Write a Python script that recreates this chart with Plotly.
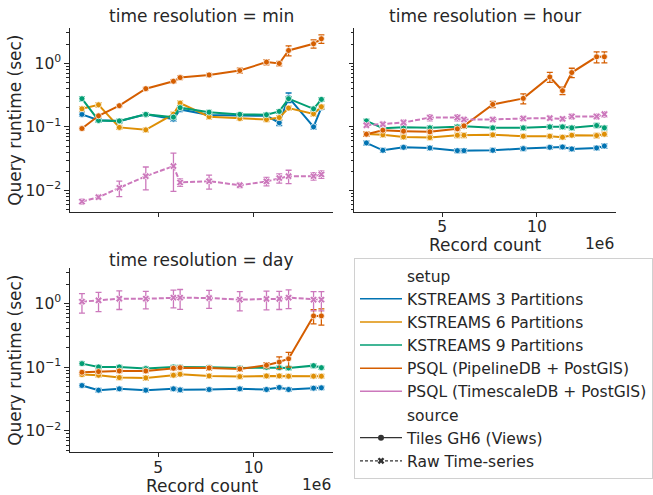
import plotly.graph_objects as go

W, H = 653, 495

record_count = [1.0e6, 1.87e6, 2.96e6, 4.35e6, 5.8e6, 6.15e6, 7.67e6, 9.28e6,
                10.68e6, 11.35e6, 11.84e6, 13.15e6, 13.56e6]

setups = ["KSTREAMS 3 Partitions", "KSTREAMS 6 Partitions", "KSTREAMS 9 Partitions",
          "PSQL (PipelineDB + PostGIS)", "PSQL (TimescaleDB + PostGIS)"]
setup_colors = ["#0173b2", "#de8f05", "#029e73", "#d55e00", "#cc78bc"]
setup_source = ["Tiles GH6 (Views)", "Tiles GH6 (Views)", "Tiles GH6 (Views)",
                "Tiles GH6 (Views)", "Raw Time-series"]
sources = ["Tiles GH6 (Views)", "Raw Time-series"]
panels = ["min", "hour", "day"]

# ---- time resolution = min ----
min_k3 = [0.157, 0.127, 0.123, 0.157, 0.132, 0.188, 0.153, 0.149, 0.149, 0.116, 0.29, 0.100, 0.20]
min_k6 = [0.192, 0.222, 0.098, 0.0897, 0.158, 0.236, 0.144, 0.135, 0.130, 0.140, 0.197, 0.160, 0.207]
min_k9 = [0.277, 0.126, 0.124, 0.157, 0.142, 0.200, 0.170, 0.157, 0.155, 0.175, 0.277, 0.192, 0.270]
min_pipe = [0.094, 0.149, 0.215, 0.398, 0.52, 0.594, 0.654, 0.766, 1.04, 0.99, 1.585, 2.02, 2.42]
min_ts = [0.0067, 0.00785, 0.011, 0.0168, 0.0242, 0.01337, 0.014, 0.0121, 0.0139, 0.0157, 0.0168, 0.0168, 0.0179]
min_k3_err = [0.011, 0.007, 0.007, 0.010, 0.010, 0.015, 0.010, 0.009, 0.009, 0.011, 0.050, 0.008, 0.012]
min_k6_err = [0.014, 0.018, 0.007, 0.006, 0.012, 0.018, 0.010, 0.009, 0.009, 0.010, 0.014, 0.012, 0.015]
min_k9_err = [0.022, 0.007, 0.008, 0.010, 0.010, 0.014, 0.011, 0.010, 0.010, 0.012, 0.020, 0.012, 0.018]
min_pipe_err = [0.004, 0.006, 0.008, 0.018, 0.03, 0.04, 0.04, 0.07, 0.10, 0.08, 0.28, 0.30, 0.37]
min_ts_err = [0.0006, 0.0006, 0.003, 0.0066, 0.0145, 0.0018, 0.0035, 0.001, 0.0021, 0.0026, 0.004, 0.0023, 0.0024]

# ---- time resolution = hour ----
hour_k3 = [0.0559, 0.0428, 0.0477, 0.0466, 0.0423, 0.0423, 0.0428, 0.0455, 0.0477, 0.0483, 0.045, 0.0466, 0.050]
hour_k6 = [0.0775, 0.0748, 0.0695, 0.0679, 0.0738, 0.0738, 0.0748, 0.0713, 0.0713, 0.0687, 0.0738, 0.073, 0.0766]
hour_k9 = [0.124, 0.0953, 0.0989, 0.0965, 0.100, 0.1025, 0.0965, 0.0965, 0.100, 0.100, 0.0965, 0.105, 0.0965]
hour_pipe = [0.0766, 0.0886, 0.0855, 0.0834, 0.093, 0.1037, 0.225, 0.28, 0.608, 0.37, 0.713, 1.26, 1.26]
hour_ts = [0.106, 0.110, 0.117, 0.140, 0.140, 0.1306, 0.1306, 0.1355, 0.137, 0.1337, 0.1456, 0.1456, 0.158]
hour_k3_err = [0.004, 0.003, 0.003, 0.003, 0.003, 0.003, 0.003, 0.003, 0.003, 0.003, 0.003, 0.003, 0.004]
hour_k6_err = [0.006, 0.005, 0.005, 0.005, 0.006, 0.006, 0.005, 0.005, 0.005, 0.005, 0.005, 0.006, 0.006]
hour_k9_err = [0.008, 0.006, 0.006, 0.007, 0.007, 0.007, 0.006, 0.007, 0.007, 0.007, 0.007, 0.008, 0.007]
hour_pipe_err = [0.006, 0.005, 0.005, 0.005, 0.006, 0.007, 0.025, 0.05, 0.11, 0.05, 0.12, 0.25, 0.25]
hour_ts_err = [0.008, 0.008, 0.010, 0.016, 0.016, 0.010, 0.010, 0.010, 0.010, 0.010, 0.012, 0.012, 0.016]

# ---- time resolution = day ----
day_k3 = [0.0515, 0.0435, 0.0457, 0.0435, 0.0457, 0.044, 0.0446, 0.0457, 0.0446, 0.048, 0.0446, 0.0468, 0.0474]
day_k6 = [0.0764, 0.0746, 0.0686, 0.0678, 0.0746, 0.0773, 0.0728, 0.0711, 0.0728, 0.0728, 0.072, 0.072, 0.072]
day_k9 = [0.1135, 0.1006, 0.1006, 0.0948, 0.1006, 0.1006, 0.0994, 0.097, 0.0994, 0.098, 0.097, 0.1055, 0.098]
day_pipe = [0.083, 0.085, 0.087, 0.087, 0.096, 0.098, 0.097, 0.0936, 0.107, 0.12, 0.135, 0.635, 0.635]
day_ts = [1.06, 1.11, 1.18, 1.18, 1.225, 1.225, 1.21, 1.14, 1.17, 1.17, 1.225, 1.14, 1.14]
day_k3_err = [0.003, 0.003, 0.003, 0.003, 0.003, 0.003, 0.003, 0.003, 0.003, 0.003, 0.003, 0.003, 0.003]
day_k6_err = [0.005, 0.005, 0.005, 0.005, 0.005, 0.005, 0.005, 0.005, 0.005, 0.005, 0.005, 0.005, 0.005]
day_k9_err = [0.007, 0.006, 0.006, 0.006, 0.006, 0.006, 0.006, 0.006, 0.006, 0.006, 0.006, 0.007, 0.006]
day_pipe_err = [0.005, 0.005, 0.005, 0.005, 0.006, 0.006, 0.007, 0.007, 0.010, 0.025, 0.035, 0.16, 0.18]
day_ts_err = [0.36, 0.37, 0.38, 0.36, 0.38, 0.42, 0.38, 0.38, 0.38, 0.37, 0.40, 0.38, 0.38]

panel_values = {
    "min": [min_k3, min_k6, min_k9, min_pipe, min_ts],
    "hour": [hour_k3, hour_k6, hour_k9, hour_pipe, hour_ts],
    "day": [day_k3, day_k6, day_k9, day_pipe, day_ts],
}
panel_errors = {
    "min": [min_k3_err, min_k6_err, min_k9_err, min_pipe_err, min_ts_err],
    "hour": [hour_k3_err, hour_k6_err, hour_k9_err, hour_pipe_err, hour_ts_err],
    "day": [day_k3_err, day_k6_err, day_k9_err, day_pipe_err, day_ts_err],
}

y_ticks = [0.01, 0.1, 1]
y_ticktext = ["10<sup>\u22122</sup>", "10<sup>\u22121</sup>", "10<sup>0</sup>"]
x_ticks = [5e6, 10e6]
x_ticktext = ["5", "10"]

TXT = "#262626"
FONT = "DejaVu Sans"

panel_axes = {"min": ("x", "y"), "hour": ("x2", "y2"), "day": ("x3", "y3")}

fig = go.Figure()

for p in panels:
    xa, ya = panel_axes[p]
    for i, s in enumerate(setups):
        raw = setup_source[i] == "Raw Time-series"
        fig.add_trace(go.Scatter(
            x=record_count, y=panel_values[p][i], xaxis=xa, yaxis=ya,
            mode="lines+markers", showlegend=False, hoverinfo="skip",
            line=dict(color=setup_colors[i], width=2, dash="5px,2px" if raw else "solid"),
            marker=dict(symbol="x" if raw else "circle", size=6.5 if raw else 6,
                        color=setup_colors[i], line=dict(color="rgba(255,255,255,0.75)", width=1)),
            error_y=dict(type="data", array=panel_errors[p][i], symmetric=True,
                         color=setup_colors[i], thickness=1.3, width=3),
        ))

# legend entries
def legend_entry(name, **kw):
    fig.add_trace(go.Scatter(x=[None], y=[None], name=name, showlegend=True, **kw))

legend_entry("setup", mode="lines", line=dict(color="rgba(0,0,0,0)", width=1))
for i, s in enumerate(setups):
    legend_entry(s, mode="lines", line=dict(color=setup_colors[i], width=1.5))
legend_entry("source", mode="lines", line=dict(color="rgba(0,0,0,0)", width=1))
legend_entry(sources[0], mode="lines+markers", line=dict(color="#333333", width=1.2),
             marker=dict(symbol="circle", size=6, color="#333333"))
legend_entry(sources[1], mode="lines+markers", line=dict(color="#333333", width=1.2, dash="3px,2px"),
             marker=dict(symbol="x", size=6, color="#333333"))

def px_x(a, b):
    return [a / W, b / W]

def px_y(top, bottom):
    return [1 - bottom / H, 1 - top / H]

minor_vals = [k * 10.0 ** e for e in (-3, -2, -1, 0) for k in range(2, 10)]

def yaxis(domain, show_labels):
    return dict(type="log", domain=domain, range=[-2.33, 0.553],
                showline=True, linecolor=TXT, linewidth=1.2, mirror=False,
                showgrid=False, zeroline=False,
                ticks="outside", ticklen=4.5, tickwidth=1.1, tickcolor=TXT,
                tickmode="array", tickvals=y_ticks, ticktext=y_ticktext,
                showticklabels=show_labels,
                tickfont=dict(family=FONT, size=15.5, color=TXT),
                minor=dict(ticks="outside", ticklen=2.5, tickwidth=0.8, tickcolor=TXT,
                           tickmode="array", tickvals=minor_vals, showgrid=False))

def xaxis(domain, show_labels):
    return dict(domain=domain, range=[0.37e6, 14.19e6],
                showline=True, linecolor=TXT, linewidth=1.2, mirror=False,
                showgrid=False, zeroline=False,
                ticks="outside", ticklen=4, tickwidth=1.1, tickcolor=TXT,
                tickmode="array", tickvals=x_ticks, ticktext=x_ticktext,
                showticklabels=show_labels, ticklabelstandoff=-3,
                tickfont=dict(family=FONT, size=15.5, color=TXT))

xl = px_x(70.7, 337)
xr = px_x(358.3, 623)
yt = px_y(28, 211.5)
yb = px_y(268, 452)

fig.update_layout(
    width=W, height=H, margin=dict(l=0, r=0, t=0, b=0),
    paper_bgcolor="white", plot_bgcolor="white",
    font=dict(family=FONT, color=TXT),
    xaxis=dict(xaxis(xl, False), anchor="y"),
    yaxis=dict(yaxis(yt, True), anchor="x"),
    xaxis2=dict(xaxis(xr, True), anchor="y2"),
    yaxis2=dict(yaxis(yt, False), anchor="x2"),
    xaxis3=dict(xaxis(xl, True), anchor="y3"),
    yaxis3=dict(yaxis(yb, True), anchor="x3"),
    legend=dict(x=358 / W, y=1 - 258 / H, xanchor="left", yanchor="top",
                font=dict(family=FONT, size=15.5, color=TXT),
                bgcolor="white", bordercolor="#d0d0d0", borderwidth=1,
                tracegroupgap=0, itemwidth=42),
)

ann = []
def add_text(text, x, y, size, xanchor="center", **kw):
    ann.append(dict(text=text, x=x / W, y=1 - y / H, xref="paper", yref="paper",
                    xanchor=xanchor, yanchor="middle", showarrow=False,
                    font=dict(family=FONT, size=size, color=TXT), **kw))

add_text("time resolution = min", (70.7 + 337) / 2, 16.5, 17)
add_text("time resolution = hour", (358.3 + 623) / 2, 16.5, 17)
add_text("time resolution = day", (70.7 + 337) / 2, 260, 17)
add_text("Query runtime (sec)", 15, 120, 17, textangle=-90)
add_text("Query runtime (sec)", 15, 360, 17, textangle=-90)
add_text("Record count", (358.3 + 623) / 2, 245, 17)
add_text("Record count", (70.7 + 337) / 2, 486, 17)
add_text("1e6", 623, 244, 15.5, xanchor="right")
add_text("1e6", 337, 485, 15.5, xanchor="right")
fig.update_layout(annotations=ann)

fig.write_html("out.html")
